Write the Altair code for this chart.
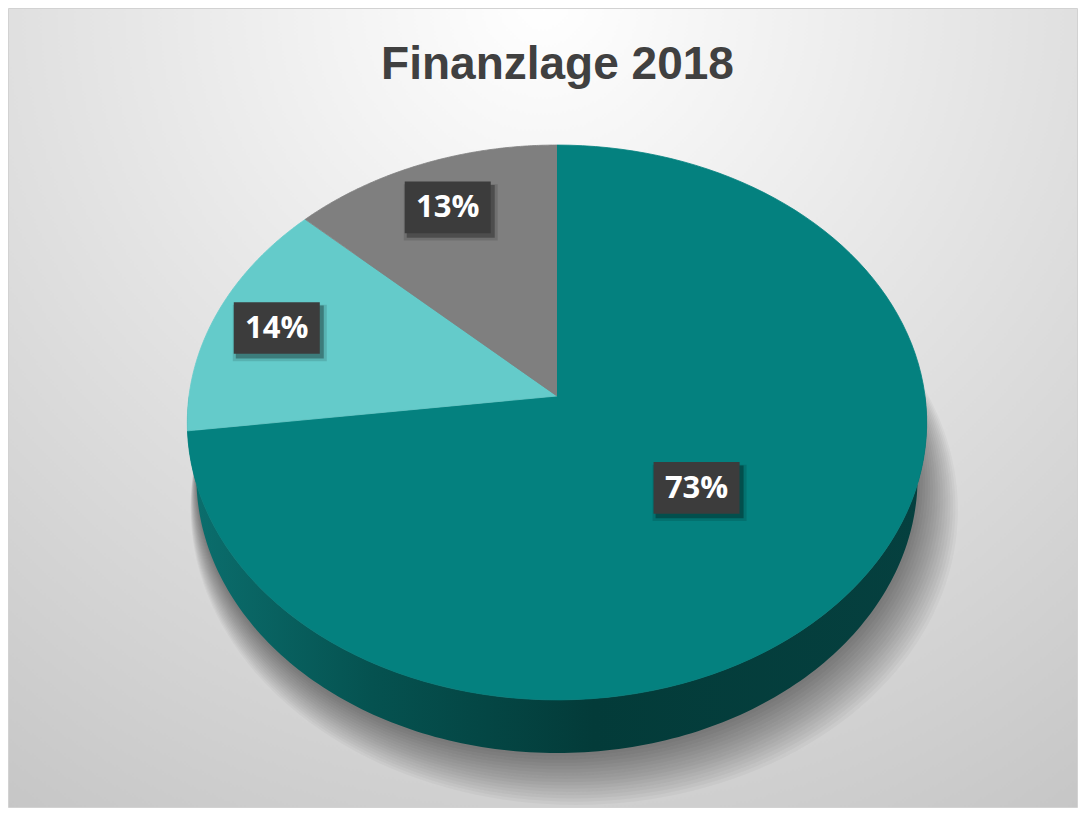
import altair as alt
import pandas as pd

# ---------------- data ----------------
TITLE = "Finanzlage 2018"
CATEGORIES = ["Teil A", "Teil B", "Teil C"]
VALUES = [73, 14, 13]

# ---------------- styles / layout ----------------
COLORS = ["#04817f", "#64cbca", "#7f7f7f"]
LABEL_RADIUS = [0.49, 0.82, 0.80]     # radial position of each label (fraction of radius)

W, H = 1070, 800
CX, CY = 549.0, 388.0                 # projected pie centre
K, D = 2565.0, 6.97                   # perspective constants
S, C = 0.747, 0.665                   # sin / cos of the viewing elevation
DEPTH = 0.233                         # pie thickness (fraction of radius)
N = 120                               # arc resolution

XS = alt.Scale(domain=[0, W], nice=False, zero=False)
YS = alt.Scale(domain=[0, H], nice=False, zero=False, reverse=True)
CSCALE = alt.Scale(domain=CATEGORIES, range=COLORS)

PROJ = dict(
    dep=f"{D} + datum.Z * {C} - datum.Yw * {S}",
    sx=f"{CX} + {K} * datum.X / datum.dep",
    sy=f"{CY} - {K} * (datum.Yw * {C} + datum.Z * {S}) / datum.dep",
)

slices = pd.DataFrame({"cat": CATEGORIES, "value": VALUES,
                       "i": list(range(len(VALUES))), "lr": LABEL_RADIUS})

# background
bg = alt.Chart(pd.DataFrame({"bg": [0]})).mark_rect(
    fill=alt.RadialGradient(
        gradient="radial", x1=0.5, y1=0.12, x2=0.5, y2=0.12, r1=0, r2=1.0,
        stops=[alt.GradientStop(offset=0, color="#ffffff"),
               alt.GradientStop(offset=1, color="#c0c0c0")]),
    stroke="#d2d2d2", strokeWidth=1,
).encode(x=alt.value(0.5), x2=alt.value(W - 0.5), y=alt.value(0.5), y2=alt.value(H - 0.5))

# soft shadow beneath the pie
M = 180
RINGS = list(range(1, 17))
shadow = alt.Chart(pd.DataFrame({"ring": RINGS})).transform_calculate(
    pts=f"sequence(0, {M + 1})").transform_flatten(["pts"]).transform_calculate(
    th=f"2 * PI * datum.pts / {M}",
    r="1 + 0.0048 * datum.ring",
    X="datum.r * sin(datum.th) + 0.003 * datum.ring",
    Z="datum.r * cos(datum.th)",
    Yw=f"-{DEPTH} - 0.0075 * datum.ring",
    **PROJ,
).mark_line(filled=True, fill="#000000", fillOpacity=0.03, strokeWidth=0).encode(
    x=alt.X("sx:Q", scale=XS, axis=None),
    y=alt.Y("sy:Q", scale=YS, axis=None),
    detail="ring:N", order="pts:Q")

# side wall of the pie
wall = alt.Chart(pd.DataFrame({"part": ["wall"]})).transform_calculate(
    pts=f"sequence(0, {2 * M + 2})").transform_flatten(["pts"]).transform_calculate(
    Yw=f"datum.pts <= {M} ? 0 : -{DEPTH}",
    th=f"datum.pts <= {M} ? PI / 2 + PI * datum.pts / {M} : 3 * PI / 2 - PI * (datum.pts - {M} - 1) / {M}",
    X="sin(datum.th)",
    Z="cos(datum.th)",
    **PROJ,
).mark_line(filled=True, strokeWidth=0, fill=alt.LinearGradient(
    gradient="linear", x1=0, y1=0, x2=1, y2=0,
    stops=[alt.GradientStop(offset=0, color="#0b6f6e"),
           alt.GradientStop(offset=0.25, color="#055250"),
           alt.GradientStop(offset=0.55, color="#033b39"),
           alt.GradientStop(offset=1, color="#05403f")])).encode(
    x=alt.X("sx:Q", scale=XS, axis=None),
    y=alt.Y("sy:Q", scale=YS, axis=None),
    order="pts:Q")

base = alt.Chart(slices).transform_joinaggregate(total="sum(value)").transform_window(
    cum="sum(value)", sort=[alt.SortField("i", order="ascending")]).transform_calculate(
    a0="(datum.cum - datum.value) / datum.total * 2 * PI",
    a1="datum.cum / datum.total * 2 * PI")

top = base.transform_calculate(pts=f"sequence(0, {N + 2})").transform_flatten(["pts"]).transform_calculate(
    th=f"datum.a0 + (datum.a1 - datum.a0) * (datum.pts - 1) / {N}",
    X="datum.pts == 0 ? 0 : sin(datum.th)",
    Z="datum.pts == 0 ? 0 : cos(datum.th)",
    Yw="0",
    **PROJ,
).mark_line(filled=True, strokeWidth=0.8).encode(
    x=alt.X("sx:Q", scale=XS, axis=None),
    y=alt.Y("sy:Q", scale=YS, axis=None),
    color=alt.Color("cat:N", scale=CSCALE, legend=None),
    stroke=alt.Stroke("cat:N", scale=CSCALE, legend=None),
    detail="cat:N", order="pts:Q")

lab = base.transform_calculate(
    th="(datum.a0 + datum.a1) / 2",
    X="datum.lr * sin(datum.th)",
    Z="datum.lr * cos(datum.th)",
    Yw="0",
    **PROJ,
    txt="format(datum.value / datum.total, '.0%')",
)
BOX = "M-1,-0.6L1,-0.6L1,0.6L-1,0.6Z"
enc = dict(x=alt.X("sx:Q", scale=XS, axis=None), y=alt.Y("sy:Q", scale=YS, axis=None))
box_sh1 = lab.mark_point(shape=BOX, size=94 ** 2, filled=True, color="#000000", opacity=0.12,
                         strokeWidth=0, xOffset=3, yOffset=5).encode(**enc)
box_sh2 = lab.mark_point(shape=BOX, size=88 ** 2, filled=True, color="#000000", opacity=0.3,
                         strokeWidth=0, xOffset=3, yOffset=4).encode(**enc)
box = lab.mark_point(shape=BOX, size=86 ** 2, filled=True, color="#3c3c3c", opacity=1,
                     strokeWidth=0).encode(**enc)
txt = lab.mark_text(font="Open Sans", fontWeight="bold", fontSize=31, color="#ffffff",
                    align="center", baseline="middle", dy=1).encode(text="txt:N", **enc)

title = alt.Chart(pd.DataFrame({"t": [TITLE]})).mark_text(
    font="Liberation Sans", fontWeight="bold", fontSize=46, color="#404040",
    align="center", baseline="alphabetic").encode(
    text="t:N", x=alt.value(549.5), y=alt.value(71))

chart = alt.layer(bg, shadow, wall, top, box_sh1, box_sh2, box, txt, title).properties(
    width=W, height=H, padding=0, autosize=alt.AutoSizeParams(type="none"),
).configure_view(stroke=None)

chart.save("out.html", embed_options={"renderer": "svg", "actions": False})
